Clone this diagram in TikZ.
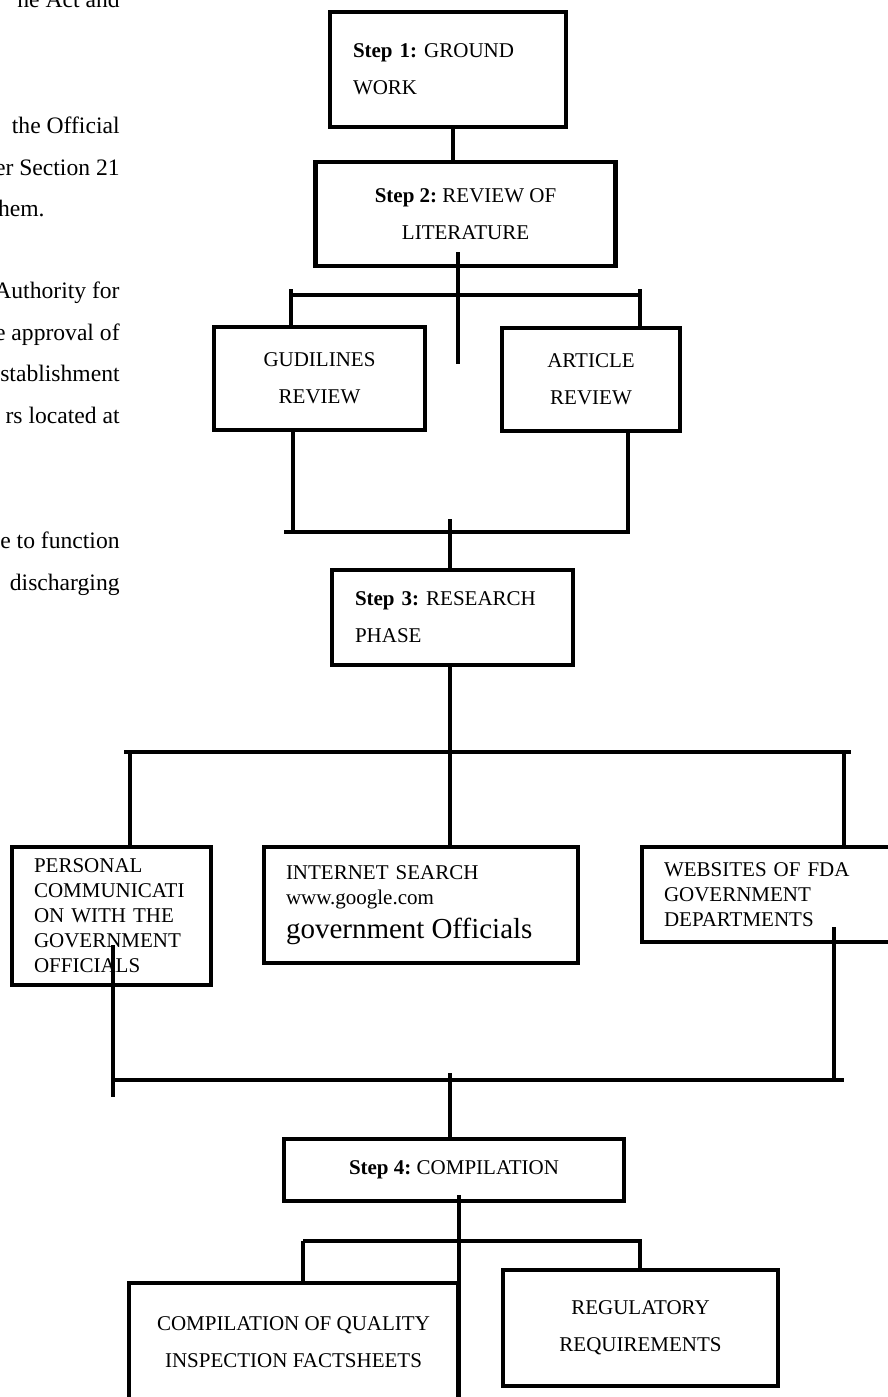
\documentclass[tikz,border=0pt]{standalone}
\usepackage{fontspec}
\setmainfont{Liberation Serif}
\tikzset{
  stepbox/.style={draw, line width=2.3pt, inner sep=0pt, inner xsep=11.5pt, font=\fontsize{10.5}{18.5}\selectfont},
  listbox/.style={stepbox, inner xsep=11pt, font=\fontsize{10.5}{12.5}\selectfont, align=left},
  link/.style={line width=2pt},
  bodytxt/.style={inner sep=0pt, anchor=base east, font=\fontsize{11.8}{14}\selectfont}
}

\begin{document}
\frenchspacing
\begin{tikzpicture}[x=0.5pt, y=-0.5pt]
\useasboundingbox (0,0) rectangle (888,1397);
\foreach \yy/\xx/\txt [count=\i] in {8/120/he Act and, 133/120/the Official, 175/120/er Section 21, 216/45/hem., 298/120/Authority for, 340/120/e approval of, 381/120/stablishment, 423/120/rs located at, 548/120/e to function, 590/120/discharging} {
  \node[bodytxt] (p\i) at (\xx,\yy) {\txt};
}
\node[stepbox, align=left, text width=95pt, minimum height=57.5pt] (s1) at (448,69.5) {\textbf{Step 1:} GROUND\\WORK};
\node[stepbox, align=center, minimum width=150pt, minimum height=52pt] (s2) at (465.5,214) {\textbf{Step 2:} REVIEW OF\\LITERATURE};
\node[stepbox, align=center, minimum width=105.5pt, minimum height=51.5pt] (gl) at (319.5,378.5) {GUDILINES\\REVIEW};
\node[stepbox, align=center, minimum width=89pt, minimum height=51.5pt] (ar) at (591,379.5) {ARTICLE\\REVIEW};
\node[stepbox, align=left, text width=97.5pt, minimum height=47.5pt] (s3) at (452.5,617.5) {\textbf{Step 3:} RESEARCH\\PHASE};
\node[listbox, text width=77.5pt, minimum height=69pt] (pc) at (111.5,916) {PERSONAL\\COMMUNICATI\\ON WITH THE\\GOVERNMENT\\OFFICIALS};
\node[listbox, text width=135pt, minimum height=58pt] (is) at (421,905) {INTERNET SEARCH\\www.google.com\\[4.5pt]{\fontsize{14.5}{16}\selectfont government Officials}};
\node[listbox, text width=109.5pt, minimum height=47.5pt] (wb) at (773.5,894.5) {WEBSITES OF FDA\\GOVERNMENT\\DEPARTMENTS};
\node[stepbox, align=center, minimum width=170pt, minimum height=31pt] (s4) at (454,1170) {\textbf{Step 4:} COMPILATION};
\node[stepbox, align=center, minimum width=164.5pt, minimum height=59pt] (cq) at (293.5,1342) {COMPILATION OF QUALITY\\INSPECTION FACTSHEETS};
\node[stepbox, align=center, minimum width=137.5pt, minimum height=58pt] (rr) at (640.5,1328) {REGULATORY\\REQUIREMENTS};

\coordinate (k1) at (453,0);
\draw[link] (s1.south -| k1) -- (s2.north -| k1);
\coordinate (c2) at (458,252);
\coordinate (c2e) at (458,364);
\draw[link] (c2) -- (c2e);
\coordinate (b2l) at (291,295);
\coordinate (b2r) at (640,295);
\draw[link] (b2l) -- (b2r);
\draw[link] ([yshift=3pt]b2l) -- (b2l |- gl.north);
\draw[link] ([yshift=3pt]b2r) -- (b2r |- ar.north);

\coordinate (b3l) at (284,532);
\coordinate (b3r) at (630,532);
\draw[link] (b3l) -- (b3r);
\coordinate (k3l) at (293,532);
\coordinate (k3r) at (628,532);
\draw[link] (gl.south -| k3l) -- (k3l);
\draw[link] (ar.south -| k3r) -- (k3r);
\coordinate (k3) at (450,519);
\draw[link] (k3) -- (k3 |- s3.north);

\coordinate (b4l) at (124,752);
\coordinate (b4r) at (851,752);
\draw[link] (b4l) -- (b4r);
\coordinate (k4) at (450,0);
\draw[link] (s3.south -| k4) -- (is.north -| k4);
\coordinate (k4l) at (130,752);
\coordinate (k4r) at (844,752);
\draw[link] (k4l) -- (k4l |- pc.north);
\draw[link] (k4r) -- (k4r |- wb.north);

\coordinate (b5l) at (113,1080);
\coordinate (b5r) at (844,1080);
\draw[link] (b5l) -- (b5r);
\coordinate (c5l) at (113,945);
\draw[link] (c5l) -- ([yshift=-8.5pt]b5l);
\coordinate (c5r) at (834,927);
\draw[link] (c5r) -- (c5r |- b5r);
\coordinate (k5) at (450,1073);
\draw[link] (k5) -- (k5 |- s4.north);

\coordinate (c6) at (459,1195);
\draw[link] (c6) -- (c6 |- cq.south);
\coordinate (b6l) at (303,1241);
\coordinate (b6r) at (642,1241);
\draw[link] (b6l) -- (b6r);
\draw[link] (b6l) -- (b6l |- cq.north);
\coordinate (k6r) at (640,1241);
\draw[link] (k6r) -- (k6r |- rr.north);
\end{tikzpicture}
\end{document}
